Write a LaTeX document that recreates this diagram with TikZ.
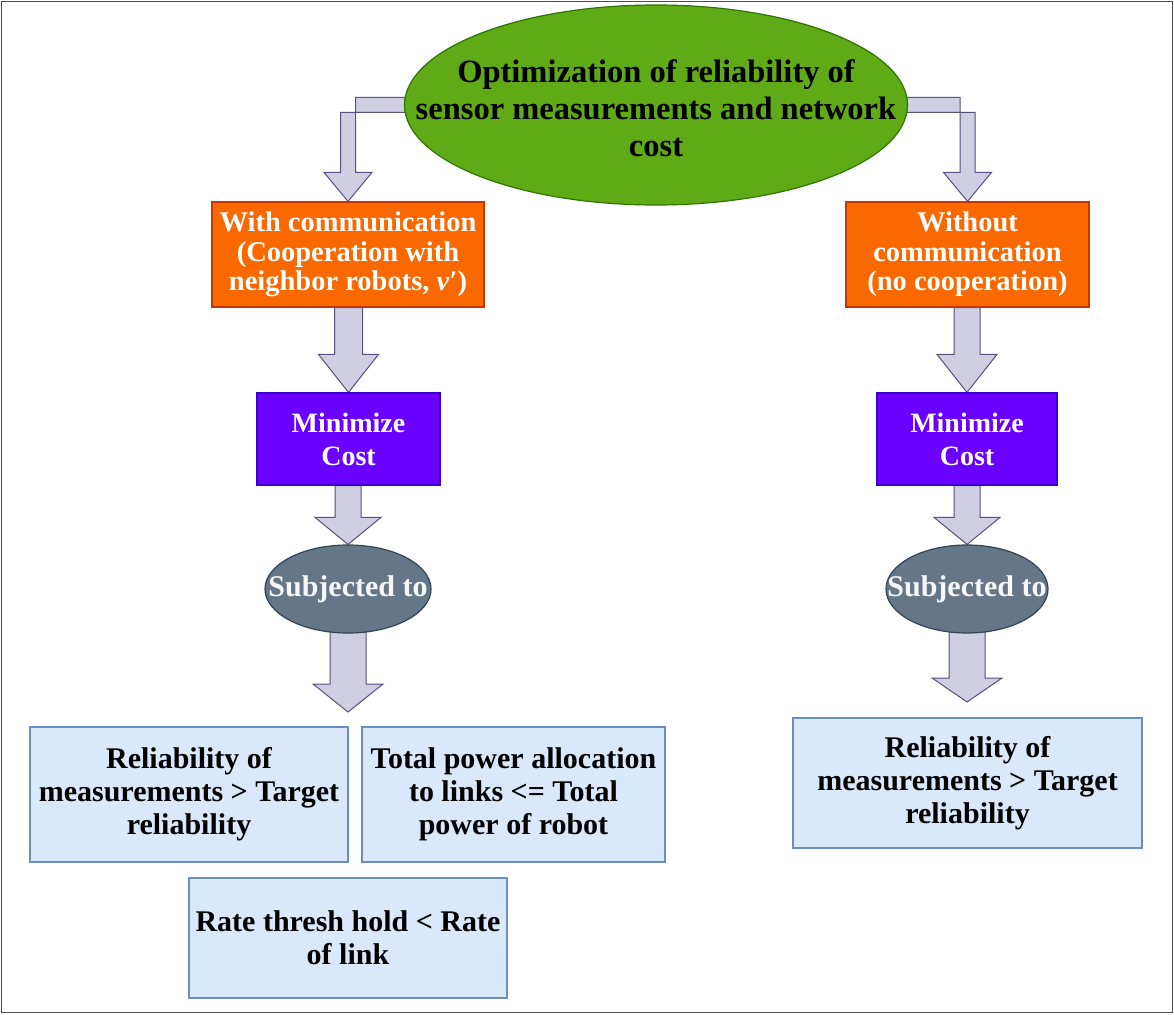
\documentclass[tikz,border=0pt]{standalone}
\usepackage{fontspec}
\setmainfont{Liberation Serif}
\usetikzlibrary{shapes.geometric,calc}
\definecolor{grnF}{HTML}{60A917}
\definecolor{grnD}{HTML}{2D7600}
\definecolor{orgF}{HTML}{FA6800}
\definecolor{orgD}{HTML}{C73500}
\definecolor{purF}{HTML}{6A00FF}
\definecolor{purD}{HTML}{3700CC}
\definecolor{gryF}{HTML}{647687}
\definecolor{gryD}{HTML}{314354}
\definecolor{bluF}{HTML}{DAE8FC}
\definecolor{bluD}{HTML}{6C8EBF}
\definecolor{arrF}{HTML}{D0CEE2}
\definecolor{arrD}{HTML}{56517E}
\pgfdeclarelayer{bg}
\pgfsetlayers{bg,main}
% straight block arrow: #1 start point, #2 tip point, #3 half shaft, #4 half head, #5 head length
\newcommand\blockarr[5]{%
  \draw[barrow] let \p1=(#1), \p2=(#2) in
    (\x2-#3,\y1) -- (\x2-#3,\y2+#5) -- (\x2-#4,\y2+#5) -- (\x2,\y2)
    -- (\x2+#4,\y2+#5) -- (\x2+#3,\y2+#5) -- (\x2+#3,\y1) -- cycle;}
% bent block arrow: #1 start point (inside ellipse), #2 tip point, #3 direction (+1 right, -1 left)
\newcommand\bentarr[3]{%
  \draw[barrow] let \p1=(#1), \p2=(#2) in
    (\x1,\y1+7.5pt) -- (\x2-#3*7.5pt,\y1+7.5pt) -- (\x2-#3*7.5pt,\y2+29pt)
    -- (\x2-#3*24pt,\y2+29pt) -- (\x2,\y2) -- (\x2+#3*24pt,\y2+29pt)
    -- (\x2+#3*7.5pt,\y2+29pt) -- (\x2+#3*7.5pt,\y1-7.5pt) -- (\x1,\y1-7.5pt) -- cycle;}
\begin{document}
\begin{tikzpicture}[x=1pt,y=-1pt,
  barrow/.style={fill=arrF, draw=arrD, line width=1pt, line join=miter},
  base/.style={line width=1.2pt, inner sep=0pt, align=center, font=\bfseries},
  orgbox/.style={base, rectangle, fill=orgF, draw=orgD, text=white, font=\bfseries\fontsize{28.5}{29.5}\selectfont},
  purbox/.style={base, rectangle, fill=purF, draw=purD, text=white, font=\bfseries\fontsize{28}{33}\selectfont},
  blubox/.style={base, rectangle, fill=bluF, draw=bluD, text=black, font=\bfseries\fontsize{30}{33}\selectfont},
  grnell/.style={base, ellipse, fill=grnF, draw=grnD},
  gryell/.style={base, ellipse, fill=gryF, draw=gryD},
  titletext/.style={align=center, text=black, inner sep=0pt, font=\bfseries\fontsize{32.5}{37}\selectfont},
  subtext/.style={align=center, text=white!94!gray, inner sep=0pt, font=\bfseries\fontsize{30}{30}\selectfont},
  frame/.style={draw=black!70, line width=1.5pt}
]
\useasboundingbox (0,0) rectangle (1174,1014);
\draw[frame] (1.5,1.5) rectangle (1172.5,1012.5);

% nodes
\node[grnell, minimum width=503pt, minimum height=200pt,
  label={[titletext, yshift=-3pt]center:{Optimization of reliability of\\sensor measurements and network\\cost}}] (opt) at (656,105) {};

\node[orgbox, minimum width=272pt, minimum height=105pt] (wc) at (348,254.5)
  {With communication\\(Cooperation with\\neighbor robots, \textit{v}′)};
\node[orgbox, minimum width=243pt, minimum height=105pt] (woc) at (967.5,254.5)
  {Without\\communication\\(no cooperation)};

\node[purbox, minimum width=183pt, minimum height=92pt] (mc1) at (348.5,439) {Minimize\\Cost};
\node[purbox, minimum width=180pt, minimum height=92pt] (mc2) at (967,439) {Minimize\\Cost};

\node[gryell, minimum width=166pt, minimum height=88pt,
  label={[subtext]center:{Subjected to}}] (sub1) at (348,589) {};
\node[gryell, minimum width=162pt, minimum height=88pt,
  label={[subtext]center:{Subjected to}}] (sub2) at (967,589) {};

\node[blubox, minimum width=318pt, minimum height=135pt] (rel1) at (189,794.5)
  {Reliability of\\measurements > Target\\reliability};
\node[blubox, minimum width=303pt, minimum height=135pt] (pow1) at (513.5,794.5)
  {Total power allocation\\to links <= Total\\power of robot};
\node[blubox, minimum width=318pt, minimum height=120pt] (rate1) at (348,938)
  {Rate thresh hold < Rate\\of link};
\node[blubox, minimum width=349pt, minimum height=130pt] (rel2) at (967.5,783)
  {Reliability of\\measurements > Target\\reliability};

\coordinate (tipL) at (348,712);
\coordinate (tipR) at (967,702);

% connectors (behind the nodes)
\begin{pgfonlayer}{bg}
  \bentarr{$(opt.west)+(40,0)$}{wc.north}{-1}
  \bentarr{$(opt.east)+(-40,0)$}{woc.north}{1}
  \blockarr{wc.south}{mc1.north}{14pt}{30pt}{38pt}
  \blockarr{woc.south}{mc2.north}{13pt}{30pt}{38pt}
  \blockarr{mc1.south}{sub1.north}{13pt}{33pt}{27pt}
  \blockarr{mc2.south}{sub2.north}{13pt}{33pt}{27pt}
  \blockarr{$(sub1.south)+(0,-8)$}{tipL}{18pt}{35pt}{28pt}
  \blockarr{$(sub2.south)+(0,-8)$}{tipR}{18pt}{35pt}{24pt}
\end{pgfonlayer}
\end{tikzpicture}
\end{document}
